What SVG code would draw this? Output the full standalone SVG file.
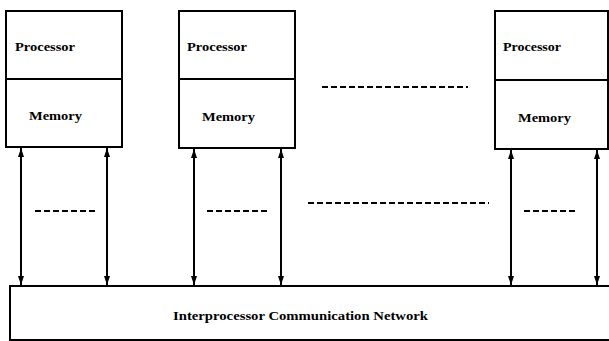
<svg xmlns="http://www.w3.org/2000/svg" width="609" height="341" viewBox="0 0 609 341">
  <style>
    .box { fill: #fff; stroke: #000; stroke-width: 2; }
    .lbl { font-family: "Liberation Serif", "Times New Roman", serif; font-weight: bold; font-size: 12.5px; fill: #000; }
    .net { font-family: "Liberation Serif", "Times New Roman", serif; font-weight: bold; font-size: 13px; fill: #000; }
    .link { stroke: #000; stroke-width: 2; fill: none; marker-start: url(#head); marker-end: url(#head); }
    .dots { stroke: #000; stroke-width: 2.2; stroke-dasharray: 6 3; fill: none; }
  </style>
  <defs>
    <!-- filled arrowhead, 9px long and 6px wide at stroke-width 2 -->
    <marker id="head" viewBox="0 0 10 10" refX="10" refY="5" markerWidth="4.5" markerHeight="3" preserveAspectRatio="none" orient="auto-start-reverse" markerUnits="strokeWidth">
      <path d="M0,0 L10,5 L0,10 Z" fill="#000"/>
    </marker>
  </defs>
  <rect width="609" height="341" fill="#fff"/>

  <!-- processing element 1 -->
  <g id="pe1">
    <rect class="box" x="6" y="11" width="116" height="68"/>
    <rect class="box" x="6" y="79" width="116" height="68"/>
    <text class="lbl" x="15" y="51" textLength="60" lengthAdjust="spacingAndGlyphs">Processor</text>
    <text class="lbl" x="29" y="120" textLength="53" lengthAdjust="spacingAndGlyphs">Memory</text>
  </g>

  <!-- processing element 2 -->
  <g id="pe2">
    <rect class="box" x="179" y="11" width="116" height="68"/>
    <rect class="box" x="179" y="79" width="116" height="69"/>
    <text class="lbl" x="187" y="51" textLength="60" lengthAdjust="spacingAndGlyphs">Processor</text>
    <text class="lbl" x="202" y="121" textLength="53" lengthAdjust="spacingAndGlyphs">Memory</text>
  </g>

  <!-- processing element n -->
  <g id="pen">
    <rect class="box" x="495" y="11" width="113" height="69"/>
    <rect class="box" x="495" y="80" width="113" height="69"/>
    <text class="lbl" x="503" y="51" textLength="58" lengthAdjust="spacingAndGlyphs">Processor</text>
    <text class="lbl" x="518" y="122" textLength="53" lengthAdjust="spacingAndGlyphs">Memory</text>
  </g>

  <!-- interconnect -->
  <g id="network">
    <rect class="box" x="10" y="286" width="605" height="54"/>
    <text class="net" x="173" y="320" textLength="255" lengthAdjust="spacingAndGlyphs">Interprocessor Communication Network</text>
  </g>

  <!-- bidirectional links between elements and the network -->
  <g id="connectors">
    <line class="link" x1="21" y1="148" x2="21" y2="285"/>
    <line class="link" x1="107" y1="148" x2="107" y2="285"/>
    <line class="link" x1="194" y1="149" x2="194" y2="285"/>
    <line class="link" x1="281" y1="149" x2="281" y2="285"/>
    <line class="link" x1="511" y1="150" x2="511" y2="285"/>
    <line class="link" x1="597" y1="150" x2="597" y2="285"/>
  </g>

  <!-- ellipsis marks -->
  <g id="ellipses">
    <line class="dots" x1="322" y1="87" x2="468" y2="87"/>
    <line class="dots" x1="35" y1="211" x2="95" y2="211"/>
    <line class="dots" x1="207" y1="211" x2="267" y2="211"/>
    <line class="dots" x1="308" y1="203" x2="489" y2="203"/>
    <line class="dots" x1="524" y1="211" x2="578" y2="211"/>
  </g>
</svg>
